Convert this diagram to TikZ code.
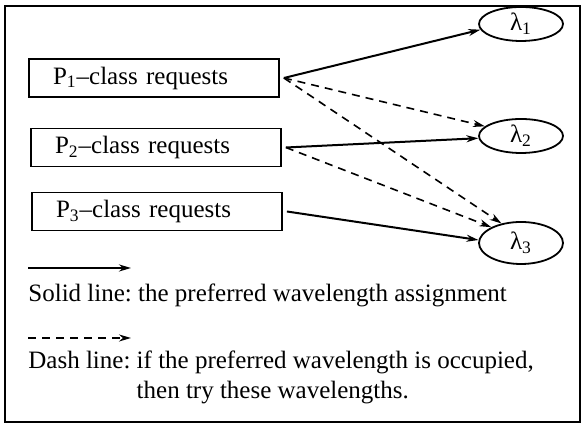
\documentclass[tikz,border=0pt]{standalone}
\usepackage{fontspec}
\setmainfont{Liberation Serif}
\usepackage{tikz}
\usetikzlibrary{arrows.meta,calc,positioning,shapes.geometric}
\frenchspacing
\newcommand{\wlfont}{\fontsize{12.5}{15}\selectfont}
\tikzset{
  wlbox/.style={draw=black, line width=0.9pt, minimum width=125pt, minimum height=19pt, inner ysep=0pt, inner xsep=12pt, text width=101pt, align=left, font=\wlfont},
  wlwave/.style={draw=black, ellipse, line width=0.9pt, minimum width=42pt, minimum height=17pt, inner sep=0pt, font=\wlfont},
  wlarrow/.style={-{Stealth[length=6pt,width=3.5pt]}, line width=1pt, draw=black},
  wldasharrow/.style={-{Stealth[length=6pt,width=3.5pt]}, line width=0.8pt, dash pattern=on 4pt off 3pt, draw=black},
  wltext/.style={anchor=west, align=left, inner sep=0pt, font=\wlfont}
}

\begin{document}
\begin{tikzpicture}[x=0.5pt,y=0.5pt]
  \useasboundingbox (0,0) rectangle (583,426);
  \draw[line width=1pt] (5,4) rectangle (580,420);
  \node[wlbox] (p1) at (154,348) {P\textsubscript{1}--class requests};
  \node[wlbox] (p2) at (156,278.5) {P\textsubscript{2}--class requests};
  \node[wlbox] (p3) at (157,214.5) {P\textsubscript{3}--class requests};
  \node[wlwave] (l1) at (521,402) {λ\textsubscript{1}};
  \node[wlwave] (l2) at (521,290) {λ\textsubscript{2}};
  \node[wlwave, minimum height=21pt] (l3) at (521,183) {λ\textsubscript{3}};
  \foreach \a/\b in {p1/l1.188,p2/l2.183,p3/l3.176} {
    \draw[wlarrow] ([xshift=2pt]\a.east) -- (\b);
  }
  \foreach \a/\b in {p1/l2.165,p1/l3.135,p2/l3.152} {
    \draw[wldasharrow] ([xshift=2pt]\a.east) -- (\b);
  }
  % legend
  \coordinate (s0) at (28,158);
  \coordinate (s1) at (131,158);
  \draw[wlarrow] (s0) -- (s1);
  \node[wltext] (solidtxt) at (28,131) {Solid line: the preferred wavelength assignment};
  \coordinate (d0) at (28,88);
  \coordinate (d1) at (131,88);
  \draw[wldasharrow] (d0) -- (d1);
  \node[wltext] (dashtxt) at (28,49) {Dash line: if the preferred wavelength is occupied,\\\hphantom{Dash line: }then try these wavelengths.};
\end{tikzpicture}
\end{document}
